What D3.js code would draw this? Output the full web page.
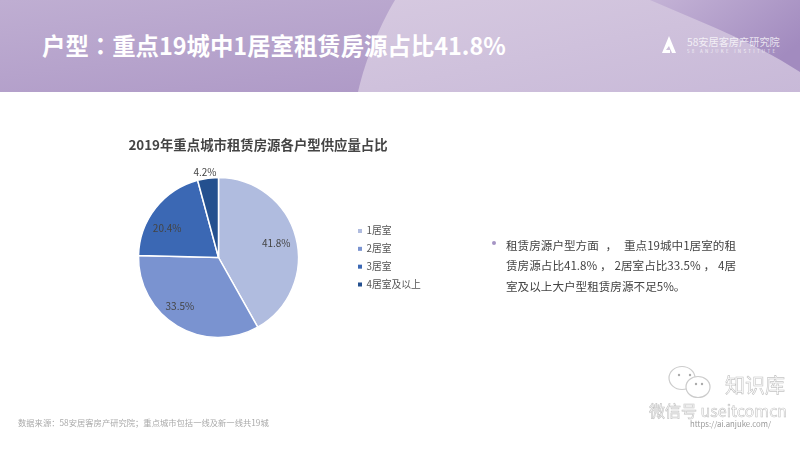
<!DOCTYPE html>
<html>
<head>
<meta charset="utf-8">
<script src="https://cdnjs.cloudflare.com/ajax/libs/d3/7.8.5/d3.min.js"></script>
<style>
html, body { margin: 0; padding: 0; background: #fff; }
svg { display: block; filter: blur(0.45px); }
text { font-family: "Noto Sans CJK SC", "Noto Sans", sans-serif; }
</style>
</head>
<body>
<div id="chart"></div>
<script>
var categories = ["1居室", "2居室", "3居室", "4居室及以上"];
var shares = [41.8, 33.5, 20.4, 4.2];
var colors = ["#b0bcdf", "#7a93d0", "#3b68b4", "#24508f"];
var pageTitle = "户型：重点19城中1居室租赁房源占比41.8%";
var chartTitle = "2019年重点城市租赁房源各户型供应量占比";
var noteLines = ["租赁房源户型方面 ， 重点19城中1居室的租", "赁房源占比41.8% ， 2居室占比33.5% ， 4居", "室及以上大户型租赁房源不足5%。"];
var sourceText = "数据来源：58安居客房产研究院；重点城市包括一线及新一线共19城";

var svg = d3.select("#chart").append("svg")
  .attr("width", 800)
  .attr("height", 449)
  .attr("viewBox", "0 0 800 449");

var defs = svg.append("defs");
var grad = defs.append("linearGradient").attr("id", "head")
  .attr("x1", "0").attr("y1", "0").attr("x2", "1").attr("y2", "1");
grad.append("stop").attr("offset", "0").attr("stop-color", "#bfaed2");
grad.append("stop").attr("offset", "1").attr("stop-color", "#a993c3");

var grad2 = defs.append("linearGradient").attr("id", "head2")
  .attr("x1", "0").attr("y1", "0").attr("x2", "1").attr("y2", "1");
grad2.append("stop").attr("offset", "0").attr("stop-color", "#d6c9e0");
grad2.append("stop").attr("offset", "1").attr("stop-color", "#c8b9d8");

var grad3 = defs.append("linearGradient").attr("id", "head3")
  .attr("x1", "0").attr("y1", "0").attr("x2", "1").attr("y2", "0.6");
grad3.append("stop").attr("offset", "0").attr("stop-color", "#c4b3d6");
grad3.append("stop").attr("offset", "1").attr("stop-color", "#a28bbf");

// header band
svg.append("rect")
  .attr("x", 0).attr("y", 0)
  .attr("width", 800).attr("height", 92)
  .attr("fill", "url(#head)");
svg.append("path")
  .attr("d", "M395,0 C380,25 365,60 358,92 L800,92 L800,0 Z")
  .attr("fill", "url(#head2)");
svg.append("path")
  .attr("d", "M650,0 C700,22 750,40 800,72 L800,0 Z")
  .attr("fill", "url(#head3)");

svg.append("text")
  .attr("x", 42).attr("y", 55)
  .attr("font-size", 23.4)
  .attr("font-weight", 700)
  .attr("fill", "#fff")
  .style("font-family", '"Noto Sans CJK TC"')
  .text(pageTitle);

// logo
svg.append("path")
  .attr("d", "M662,53 L669,36 L676,53 L672,53 L669,46 L666,50 L670,50 L670,53 Z")
  .attr("fill", "#fff");
svg.append("text")
  .attr("x", 687).attr("y", 46)
  .attr("font-size", 10.2)
  .attr("fill", "#fff")
  .attr("opacity", 0.75)
  .text("58安居客房产研究院");
svg.append("text")
  .attr("x", 687).attr("y", 53)
  .attr("font-size", 4.5)
  .attr("letter-spacing", 2.3)
  .attr("fill", "#fff")
  .attr("opacity", 0.75)
  .text("58 ANJUKE INSTITUTE");

svg.append("text")
  .attr("x", 258).attr("y", 149.5)
  .attr("text-anchor", "middle")
  .attr("font-size", 13.4)
  .attr("font-weight", 700)
  .attr("fill", "#444")
  .text(chartTitle);

// pie
var cx = 218.5, cy = 257.5, radius = 80;
var pie = d3.pie().sort(null);
var arc = d3.arc().innerRadius(0).outerRadius(radius);
var labelArc = d3.arc().innerRadius(radius * 0.72).outerRadius(radius * 0.72);

var g = svg.append("g").attr("transform", "translate(" + cx + "," + cy + ")");
var arcs = pie(shares);

g.selectAll("path.slice").data(arcs).enter().append("path")
  .attr("class", "slice")
  .attr("d", arc)
  .attr("fill", function(d, i) { return colors[i]; })
  .attr("stroke", "#fff")
  .attr("stroke-width", 1.5);

// labels sit a bit off the centroid in the original
var nudge = [[2, 1], [-9, 0], [-6, 7], [-6, -28]];
g.selectAll("text.val").data(arcs).enter().append("text")
  .attr("class", "val")
  .attr("x", function(d, i) { return labelArc.centroid(d)[0] + nudge[i][0]; })
  .attr("y", function(d, i) { return labelArc.centroid(d)[1] + nudge[i][1]; })
  .attr("dy", "0.35em")
  .attr("text-anchor", "middle")
  .attr("font-size", 10)
  .attr("fill", "#444")
  .text(function(d) { return d.data.toFixed(1) + "%"; });

// legend
var legendY = d3.scalePoint().domain(categories).range([231, 284.5]);
var legend = svg.selectAll("g.leg").data(categories).enter().append("g")
  .attr("class", "leg")
  .attr("transform", function(d) { return "translate(358," + legendY(d) + ")"; });
legend.append("rect")
  .attr("x", 0).attr("y", -2)
  .attr("width", 4).attr("height", 4)
  .attr("fill", function(d, i) { return colors[i]; });
legend.append("text")
  .attr("x", 8.5).attr("y", 0)
  .attr("dy", "0.35em")
  .attr("font-size", 9.8)
  .attr("fill", "#555")
  .text(function(d) { return d; });

// note text, first two lines are justified to the same width
svg.append("circle")
  .attr("cx", 494).attr("cy", 243).attr("r", 2)
  .attr("fill", "#a594c4");
svg.selectAll("text.note").data(noteLines).enter().append("text")
  .attr("class", "note")
  .attr("x", 506)
  .attr("y", function(d, i) { return 249.5 + i * 20.5; })
  .attr("font-size", 11.6)
  .attr("fill", "#444")
  .text(function(d) { return d; })
  .each(function(d, i) {
    if (i == 2) return;
    var spaces = d.split(" ").length - 1;
    var extra = (230 - this.getComputedTextLength()) / spaces;
    d3.select(this).attr("word-spacing", extra);
  });

svg.append("text")
  .attr("x", 18).attr("y", 426)
  .attr("font-size", 8.3)
  .attr("fill", "#aaa")
  .text(sourceText);

// watermark
var wm = svg.append("g");
wm.append("ellipse").attr("cx", 682).attr("cy", 378).attr("rx", 13).attr("ry", 11.5)
  .attr("fill", "#fff").attr("stroke", "#ccc").attr("stroke-width", 1.2);
wm.append("ellipse").attr("cx", 698).attr("cy", 387).attr("rx", 12).attr("ry", 10.5)
  .attr("fill", "#fff").attr("stroke", "#ccc").attr("stroke-width", 1.2);
wm.selectAll("circle").data([[679, 375], [690, 375], [696, 384], [702, 384]]).enter().append("circle")
  .attr("cx", function(d) { return d[0]; })
  .attr("cy", function(d) { return d[1]; })
  .attr("r", 1.2)
  .attr("fill", "#aaa");
wm.append("text")
  .attr("x", 725).attr("y", 393)
  .attr("font-size", 20)
  .attr("fill", "#fff").attr("stroke", "#c4c4c4").attr("stroke-width", 0.6)
  .text("知识库");
wm.append("text")
  .attr("x", 649).attr("y", 417)
  .attr("font-size", 16)
  .attr("fill", "#fff").attr("stroke", "#c4c4c4").attr("stroke-width", 0.6)
  .text("微信号 useitcomcn");
wm.append("text")
  .attr("x", 690).attr("y", 427)
  .attr("font-size", 7.8)
  .attr("fill", "#999")
  .text("https://ai.anjuke.com/");
</script>
</body>
</html>
